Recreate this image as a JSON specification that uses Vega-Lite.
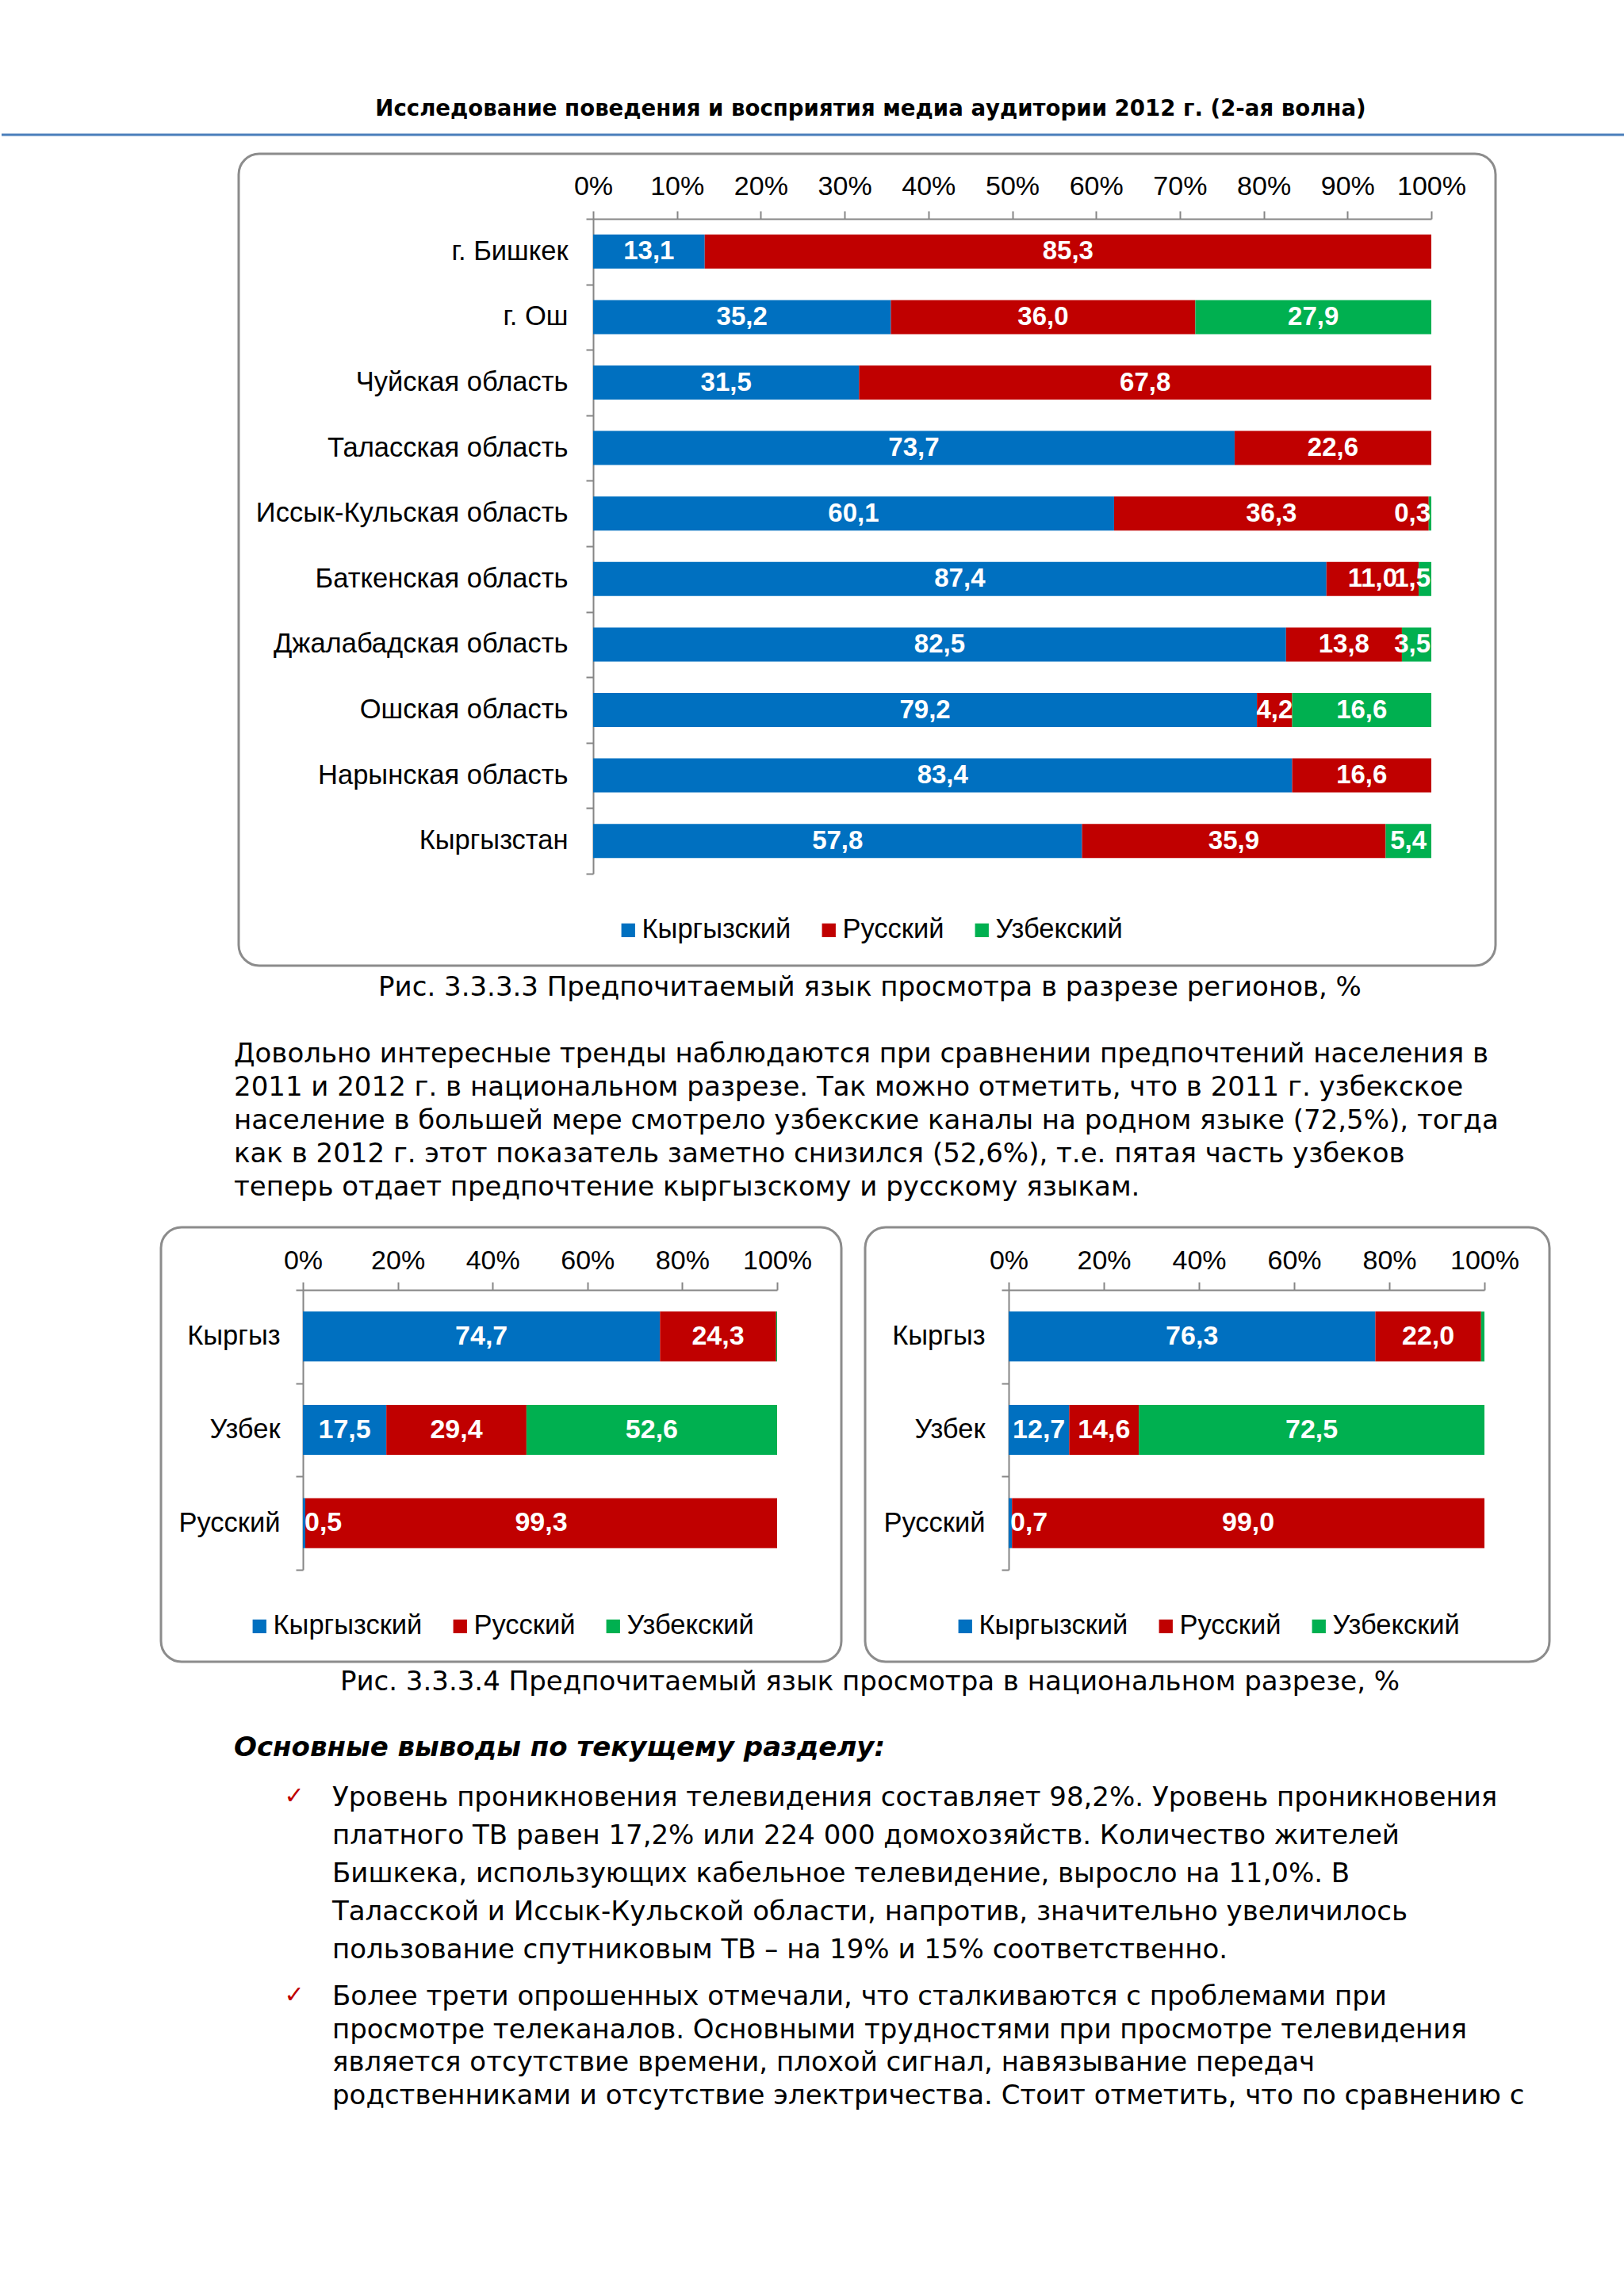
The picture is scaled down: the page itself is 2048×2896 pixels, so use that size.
{
  "$schema": "https://vega.github.io/schema/vega-lite/v6.json",
  "padding": 0,
  "autosize": {"type": "pad"},
  "background": "#ffffff",
  "spacing": 0,
  "resolve": {"scale": {"color": "independent"}, "legend": {"color": "independent"}},
  "config": {
    "view": {"stroke": null},
    "locale": {"number": {"decimal": ",", "thousands": " ", "grouping": [3], "currency": ["", ""]}},
    "text": {"font": "DejaVu Sans", "fontSize": 34, "color": "#000000"}
  },
  "datasets": {
    "regions": [
      {"group": "г. Бишкек", "lang": "Кыргызский", "value": 13.1},
      {"group": "г. Бишкек", "lang": "Русский", "value": 85.3},
      {"group": "г. Ош", "lang": "Кыргызский", "value": 35.2},
      {"group": "г. Ош", "lang": "Русский", "value": 36.0},
      {"group": "г. Ош", "lang": "Узбекский", "value": 27.9},
      {"group": "Чуйская область", "lang": "Кыргызский", "value": 31.5},
      {"group": "Чуйская область", "lang": "Русский", "value": 67.8},
      {"group": "Таласская область", "lang": "Кыргызский", "value": 73.7},
      {"group": "Таласская область", "lang": "Русский", "value": 22.6},
      {"group": "Иссык-Кульская область", "lang": "Кыргызский", "value": 60.1},
      {"group": "Иссык-Кульская область", "lang": "Русский", "value": 36.3},
      {"group": "Иссык-Кульская область", "lang": "Узбекский", "value": 0.3},
      {"group": "Баткенская область", "lang": "Кыргызский", "value": 87.4},
      {"group": "Баткенская область", "lang": "Русский", "value": 11.0},
      {"group": "Баткенская область", "lang": "Узбекский", "value": 1.5},
      {"group": "Джалабадская область", "lang": "Кыргызский", "value": 82.5},
      {"group": "Джалабадская область", "lang": "Русский", "value": 13.8},
      {"group": "Джалабадская область", "lang": "Узбекский", "value": 3.5},
      {"group": "Ошская область", "lang": "Кыргызский", "value": 79.2},
      {"group": "Ошская область", "lang": "Русский", "value": 4.2},
      {"group": "Ошская область", "lang": "Узбекский", "value": 16.6},
      {"group": "Нарынская область", "lang": "Кыргызский", "value": 83.4},
      {"group": "Нарынская область", "lang": "Русский", "value": 16.6},
      {"group": "Кыргызстан", "lang": "Кыргызский", "value": 57.8},
      {"group": "Кыргызстан", "lang": "Русский", "value": 35.9},
      {"group": "Кыргызстан", "lang": "Узбекский", "value": 5.4}
    ],
    "natLeft": [
      {"group": "Кыргыз", "lang": "Кыргызский", "value": 74.7},
      {"group": "Кыргыз", "lang": "Русский", "value": 24.3},
      {"group": "Кыргыз", "lang": "Узбекский", "value": 0.2},
      {"group": "Узбек", "lang": "Кыргызский", "value": 17.5},
      {"group": "Узбек", "lang": "Русский", "value": 29.4},
      {"group": "Узбек", "lang": "Узбекский", "value": 52.6},
      {"group": "Русский", "lang": "Кыргызский", "value": 0.5},
      {"group": "Русский", "lang": "Русский", "value": 99.3}
    ],
    "natRight": [
      {"group": "Кыргыз", "lang": "Кыргызский", "value": 76.3},
      {"group": "Кыргыз", "lang": "Русский", "value": 22.0},
      {"group": "Кыргыз", "lang": "Узбекский", "value": 0.7},
      {"group": "Узбек", "lang": "Кыргызский", "value": 12.7},
      {"group": "Узбек", "lang": "Русский", "value": 14.6},
      {"group": "Узбек", "lang": "Узбекский", "value": 72.5},
      {"group": "Русский", "lang": "Кыргызский", "value": 0.7},
      {"group": "Русский", "lang": "Русский", "value": 99.0}
    ]
  },
  "vconcat": [
    {
      "width": 2048,
      "height": 174,
      "layer": [
        {
          "data": {"values": [{"line": 0, "t": "Исследование поведения и восприятия медиа аудитории 2012 г. (2-ая волна)"}]},
          "mark": {"type": "text", "font": "DejaVu Sans", "fontWeight": "bold", "fontSize": 27.6, "dx": 72, "align": "center", "baseline": "middle"},
          "encoding": {
            "y": {"field": "line", "type": "quantitative", "scale": {"domain": [0, 1], "range": [138, 170]}, "axis": null},
            "text": {"field": "t"}
          }
        },
        {
          "data": {"values": [{"line": 1}]},
          "mark": {"type": "rule", "color": "#4A7EBB", "strokeWidth": 3},
          "encoding": {"y": {"field": "line", "type": "quantitative"}}
        }
      ]
    },
    {
      "spacing": 0,
      "resolve": {"scale": {"color": "independent"}, "legend": {"color": "independent"}},
      "hconcat": [
        {"width": 297, "height": 1024, "data": {"values": []}, "mark": "point"},
        {
          "width": 1585,
          "height": 1024,
          "view": {"stroke": "#8c8c8c", "strokeWidth": 3, "cornerRadius": 26},
          "data": {"name": "regions"},
          "encoding": {
            "y": {
              "field": "group", "type": "nominal",
              "sort": ["г. Бишкек", "г. Ош", "Чуйская область", "Таласская область", "Иссык-Кульская область", "Баткенская область", "Джалабадская область", "Ошская область", "Нарынская область", "Кыргызстан"],
              "scale": {"range": [82, 908], "paddingInner": 0, "paddingOuter": 0},
              "axis": {"orient": "left", "offset": -447, "title": null, "tickBand": "extent", "domainColor": "#868686", "domainWidth": 2, "tickColor": "#868686", "tickWidth": 2, "tickSize": 9, "labelPadding": 23, "labelFont": "Liberation Sans", "labelFontSize": 34.5, "labelColor": "#000000", "labelLimit": 900}
            }
          },
          "layer": [
            {
              "mark": {"type": "bar", "height": {"band": 0.52}},
              "encoding": {
                "x": {
                  "field": "value", "type": "quantitative", "stack": "normalize",
                  "scale": {"domain": [0, 1], "range": [447, 1504], "nice": false},
                  "axis": {"orient": "top", "offset": -82, "title": null, "format": ".0%", "values": [0, 0.1, 0.2, 0.3, 0.4, 0.5, 0.6, 0.7, 0.8, 0.9, 1], "grid": false, "domainColor": "#868686", "domainWidth": 2, "tickColor": "#868686", "tickWidth": 2, "tickSize": 10, "labelPadding": 14, "labelFont": "Liberation Sans", "labelFontSize": 34, "labelColor": "#000000", "labelFlush": false, "labelOverlap": false}
                },
                "color": {
                  "field": "lang", "type": "nominal",
                  "scale": {"domain": ["Кыргызский", "Русский", "Узбекский"], "range": ["#0070C0", "#C00000", "#00B050"]},
                  "legend": {"orient": "none", "legendX": 474, "legendY": 962, "direction": "horizontal", "title": null, "padding": 0, "symbolType": "square", "symbolSize": 300, "symbolStrokeWidth": 0, "labelFont": "Liberation Sans", "labelFontSize": 34.5, "labelColor": "#000000", "labelOffset": 0, "labelLimit": 500, "columnPadding": 30}
                },
                "order": {"field": "lang", "type": "ordinal", "sort": "ascending"}
              }
            },
            {
              "mark": {"type": "text", "font": "Liberation Sans", "fontWeight": "bold", "fontSize": 33, "color": "#ffffff", "align": "center", "baseline": "middle"},
              "encoding": {
                "x": {"field": "value", "type": "quantitative", "stack": "normalize", "bandPosition": 0.5},
                "detail": {"field": "lang"},
                "order": {"field": "lang", "type": "ordinal", "sort": "ascending"},
                "text": {"field": "value", "type": "quantitative", "format": ".1f"},
                "opacity": {"condition": {"test": "datum.lang == 'Узбекский' && datum.value < 5", "value": 0}, "value": 1}
              }
            },
            {
              "mark": {"type": "text", "font": "Liberation Sans", "fontWeight": "bold", "fontSize": 33, "color": "#ffffff", "align": "right", "baseline": "middle", "dx": -1},
              "encoding": {
                "x": {"field": "value", "type": "quantitative", "stack": "normalize", "bandPosition": 1},
                "detail": {"field": "lang"},
                "order": {"field": "lang", "type": "ordinal", "sort": "ascending"},
                "text": {"field": "value", "type": "quantitative", "format": ".1f"},
                "opacity": {"condition": {"test": "datum.lang == 'Узбекский' && datum.value < 5", "value": 1}, "value": 0}
              }
            }
          ]
        }
      ]
    },
    {
      "spacing": 0,
      "hconcat": [
        {"width": 293, "height": 308, "data": {"values": []}, "mark": "point"},
        {
          "width": 1604,
          "height": 308,
          "layer": [
            {
              "data": {"values": [{"line": 0, "t": "Рис. 3.3.3.3 Предпочитаемый язык просмотра в разрезе регионов, %"}]},
              "mark": {"type": "text", "align": "center", "baseline": "middle", "font": "DejaVu Sans", "fontSize": 34},
              "encoding": {
                "y": {"field": "line", "type": "quantitative", "scale": {"domain": [0, 6], "range": [26, 278]}, "axis": null},
                "text": {"field": "t"}
              }
            },
            {
              "data": {"values": [
                {"line": 2, "t": "Довольно интересные тренды наблюдаются при сравнении предпочтений населения в"},
                {"line": 3, "t": "2011 и 2012 г. в национальном разрезе. Так можно отметить, что в 2011 г. узбекское"},
                {"line": 4, "t": "население в большей мере смотрело узбекские каналы на родном языке (72,5%), тогда"},
                {"line": 5, "t": "как в 2012 г. этот показатель заметно снизился (52,6%), т.е. пятая часть узбеков"},
                {"line": 6, "t": "теперь отдает предпочтение кыргызскому и русскому языкам."}
              ]},
              "mark": {"type": "text", "align": "left", "baseline": "middle", "font": "DejaVu Sans", "fontSize": 34},
              "encoding": {
                "x": {"value": 0},
                "y": {"field": "line", "type": "quantitative"},
                "text": {"field": "t"}
              }
            }
          ]
        }
      ]
    },
    {
      "spacing": 0,
      "resolve": {"scale": {"color": "independent"}, "legend": {"color": "independent"}},
      "hconcat": [
        {"width": 199, "height": 548, "data": {"values": []}, "mark": "point"},
        {
          "width": 858,
          "height": 548,
          "view": {"stroke": "#8c8c8c", "strokeWidth": 3, "cornerRadius": 26},
          "data": {"name": "natLeft"},
          "encoding": {
            "y": {
              "field": "group", "type": "nominal", "sort": ["Кыргыз", "Узбек", "Русский"],
              "scale": {"range": [79, 432], "paddingInner": 0, "paddingOuter": 0},
              "axis": {"orient": "left", "offset": -179, "title": null, "tickBand": "extent", "domainColor": "#868686", "domainWidth": 2, "tickColor": "#868686", "tickWidth": 2, "tickSize": 9, "labelPadding": 20, "labelFont": "Liberation Sans", "labelFontSize": 34.5, "labelColor": "#000000", "labelLimit": 600}
            }
          },
          "layer": [
            {
              "mark": {"type": "bar", "height": {"band": 0.535}},
              "encoding": {
                "x": {
                  "field": "value", "type": "quantitative", "stack": "normalize",
                  "scale": {"domain": [0, 1], "range": [179, 777], "nice": false},
                  "axis": {"orient": "top", "offset": -79, "title": null, "format": ".0%", "values": [0, 0.2, 0.4, 0.6, 0.8, 1], "grid": false, "domainColor": "#868686", "domainWidth": 2, "tickColor": "#868686", "tickWidth": 2, "tickSize": 10, "labelPadding": 10, "labelFont": "Liberation Sans", "labelFontSize": 34, "labelColor": "#000000", "labelFlush": false, "labelOverlap": false}
                },
                "color": {
                  "field": "lang", "type": "nominal",
                  "scale": {"domain": ["Кыргызский", "Русский", "Узбекский"], "range": ["#0070C0", "#C00000", "#00B050"]},
                  "legend": {"orient": "none", "legendX": 107, "legendY": 486, "direction": "horizontal", "title": null, "padding": 0, "symbolType": "square", "symbolSize": 300, "symbolStrokeWidth": 0, "labelFont": "Liberation Sans", "labelFontSize": 34.5, "labelColor": "#000000", "labelOffset": 0, "labelLimit": 500, "columnPadding": 30}
                },
                "order": {"field": "lang", "type": "ordinal", "sort": "ascending"}
              }
            },
            {
              "mark": {"type": "text", "font": "Liberation Sans", "fontWeight": "bold", "fontSize": 34, "color": "#ffffff", "align": "center", "baseline": "middle"},
              "encoding": {
                "x": {"field": "value", "type": "quantitative", "stack": "normalize", "bandPosition": 0.5},
                "detail": {"field": "lang"},
                "order": {"field": "lang", "type": "ordinal", "sort": "ascending"},
                "text": {"field": "value", "type": "quantitative", "format": ".1f"},
                "opacity": {"condition": {"test": "datum.value < 1", "value": 0}, "value": 1}
              }
            },
            {
              "mark": {"type": "text", "font": "Liberation Sans", "fontWeight": "bold", "fontSize": 34, "color": "#ffffff", "align": "left", "baseline": "middle", "dx": 2},
              "encoding": {
                "x": {"field": "value", "type": "quantitative", "stack": "normalize", "bandPosition": 0},
                "detail": {"field": "lang"},
                "order": {"field": "lang", "type": "ordinal", "sort": "ascending"},
                "text": {"field": "value", "type": "quantitative", "format": ".1f"},
                "opacity": {"condition": {"test": "datum.lang == 'Кыргызский' && datum.value < 1", "value": 1}, "value": 0}
              }
            }
          ]
        },
        {"width": 26, "height": 548, "data": {"values": []}, "mark": "point"},
        {
          "width": 863,
          "height": 548,
          "view": {"stroke": "#8c8c8c", "strokeWidth": 3, "cornerRadius": 26},
          "data": {"name": "natRight"},
          "encoding": {
            "y": {
              "field": "group", "type": "nominal", "sort": ["Кыргыз", "Узбек", "Русский"],
              "scale": {"range": [79, 432], "paddingInner": 0, "paddingOuter": 0},
              "axis": {"orient": "left", "offset": -181, "title": null, "tickBand": "extent", "domainColor": "#868686", "domainWidth": 2, "tickColor": "#868686", "tickWidth": 2, "tickSize": 9, "labelPadding": 21, "labelFont": "Liberation Sans", "labelFontSize": 34.5, "labelColor": "#000000", "labelLimit": 600}
            }
          },
          "layer": [
            {
              "mark": {"type": "bar", "height": {"band": 0.535}},
              "encoding": {
                "x": {
                  "field": "value", "type": "quantitative", "stack": "normalize",
                  "scale": {"domain": [0, 1], "range": [181, 781], "nice": false},
                  "axis": {"orient": "top", "offset": -79, "title": null, "format": ".0%", "values": [0, 0.2, 0.4, 0.6, 0.8, 1], "grid": false, "domainColor": "#868686", "domainWidth": 2, "tickColor": "#868686", "tickWidth": 2, "tickSize": 10, "labelPadding": 10, "labelFont": "Liberation Sans", "labelFontSize": 34, "labelColor": "#000000", "labelFlush": false, "labelOverlap": false}
                },
                "color": {
                  "field": "lang", "type": "nominal",
                  "scale": {"domain": ["Кыргызский", "Русский", "Узбекский"], "range": ["#0070C0", "#C00000", "#00B050"]},
                  "legend": {"orient": "none", "legendX": 109, "legendY": 486, "direction": "horizontal", "title": null, "padding": 0, "symbolType": "square", "symbolSize": 300, "symbolStrokeWidth": 0, "labelFont": "Liberation Sans", "labelFontSize": 34.5, "labelColor": "#000000", "labelOffset": 0, "labelLimit": 500, "columnPadding": 30}
                },
                "order": {"field": "lang", "type": "ordinal", "sort": "ascending"}
              }
            },
            {
              "mark": {"type": "text", "font": "Liberation Sans", "fontWeight": "bold", "fontSize": 34, "color": "#ffffff", "align": "center", "baseline": "middle"},
              "encoding": {
                "x": {"field": "value", "type": "quantitative", "stack": "normalize", "bandPosition": 0.5},
                "detail": {"field": "lang"},
                "order": {"field": "lang", "type": "ordinal", "sort": "ascending"},
                "text": {"field": "value", "type": "quantitative", "format": ".1f"},
                "opacity": {"condition": {"test": "datum.value < 1", "value": 0}, "value": 1}
              }
            },
            {
              "mark": {"type": "text", "font": "Liberation Sans", "fontWeight": "bold", "fontSize": 34, "color": "#ffffff", "align": "left", "baseline": "middle", "dx": 2},
              "encoding": {
                "x": {"field": "value", "type": "quantitative", "stack": "normalize", "bandPosition": 0},
                "detail": {"field": "lang"},
                "order": {"field": "lang", "type": "ordinal", "sort": "ascending"},
                "text": {"field": "value", "type": "quantitative", "format": ".1f"},
                "opacity": {"condition": {"test": "datum.lang == 'Кыргызский' && datum.value < 1", "value": 1}, "value": 0}
              }
            }
          ]
        }
      ]
    },
    {
      "spacing": 0,
      "hconcat": [
        {"width": 293, "height": 138, "data": {"values": []}, "mark": "point"},
        {
          "width": 1604,
          "height": 138,
          "layer": [
            {
              "data": {"values": [{"line": 0, "t": "Рис. 3.3.3.4 Предпочитаемый язык просмотра в национальном разрезе, %"}]},
              "mark": {"type": "text", "align": "center", "baseline": "middle", "font": "DejaVu Sans", "fontSize": 34},
              "encoding": {
                "y": {"field": "line", "type": "quantitative", "scale": {"domain": [0, 2], "range": [24, 107]}, "axis": null},
                "text": {"field": "t"}
              }
            },
            {
              "data": {"values": [{"line": 2, "t": "Основные выводы по текущему разделу:"}]},
              "mark": {"type": "text", "align": "left", "baseline": "middle", "font": "DejaVu Sans", "fontSize": 34, "fontWeight": "bold", "fontStyle": "italic"},
              "encoding": {
                "x": {"value": 0},
                "y": {"field": "line", "type": "quantitative"},
                "text": {"field": "t"}
              }
            }
          ]
        }
      ]
    },
    {
      "spacing": 0,
      "hconcat": [
        {"width": 356, "height": 256, "data": {"values": []}, "mark": "point"},
        {
          "width": 24,
          "height": 256,
          "data": {"values": [{"line": 0, "t": "✓"}]},
          "mark": {"type": "text", "align": "center", "baseline": "middle", "font": "DejaVu Sans", "fontSize": 30, "color": "#C00000"},
          "encoding": {
            "y": {"field": "line", "type": "quantitative", "scale": {"domain": [0, 4], "range": [30, 222]}, "axis": null},
            "text": {"field": "t"}
          }
        },
        {"width": 35, "height": 256, "data": {"values": []}, "mark": "point"},
        {
          "width": 1482,
          "height": 256,
          "data": {"values": [
            {"line": 0, "t": "Уровень проникновения телевидения составляет 98,2%. Уровень проникновения"},
            {"line": 1, "t": "платного ТВ равен 17,2% или 224 000 домохозяйств. Количество жителей"},
            {"line": 2, "t": "Бишкека, использующих кабельное телевидение, выросло на 11,0%. В"},
            {"line": 3, "t": "Таласской и Иссык-Кульской области, напротив, значительно увеличилось"},
            {"line": 4, "t": "пользование спутниковым ТВ – на 19% и 15% соответственно."}
          ]},
          "mark": {"type": "text", "align": "left", "baseline": "middle", "font": "DejaVu Sans", "fontSize": 34},
          "encoding": {
            "x": {"value": 0},
            "y": {"field": "line", "type": "quantitative", "scale": {"domain": [0, 4], "range": [32, 224]}, "axis": null},
            "text": {"field": "t"}
          }
        }
      ]
    },
    {
      "spacing": 0,
      "hconcat": [
        {"width": 356, "height": 408, "data": {"values": []}, "mark": "point"},
        {
          "width": 24,
          "height": 408,
          "data": {"values": [{"line": 0, "t": "✓"}]},
          "mark": {"type": "text", "align": "center", "baseline": "middle", "font": "DejaVu Sans", "fontSize": 30, "color": "#C00000"},
          "encoding": {
            "y": {"field": "line", "type": "quantitative", "scale": {"domain": [0, 3], "range": [25, 152]}, "axis": null},
            "text": {"field": "t"}
          }
        },
        {"width": 35, "height": 408, "data": {"values": []}, "mark": "point"},
        {
          "width": 1482,
          "height": 408,
          "data": {"values": [
            {"line": 0, "t": "Более трети опрошенных отмечали, что сталкиваются с проблемами при"},
            {"line": 1, "t": "просмотре телеканалов. Основными трудностями при просмотре телевидения"},
            {"line": 2, "t": "является отсутствие времени, плохой сигнал, навязывание передач"},
            {"line": 3, "t": "родственниками и отсутствие электричества. Стоит отметить, что по сравнению с"}
          ]},
          "mark": {"type": "text", "align": "left", "baseline": "middle", "font": "DejaVu Sans", "fontSize": 34},
          "encoding": {
            "x": {"value": 0},
            "y": {"field": "line", "type": "quantitative", "scale": {"domain": [0, 3], "range": [27, 152]}, "axis": null},
            "text": {"field": "t"}
          }
        }
      ]
    }
  ]
}
